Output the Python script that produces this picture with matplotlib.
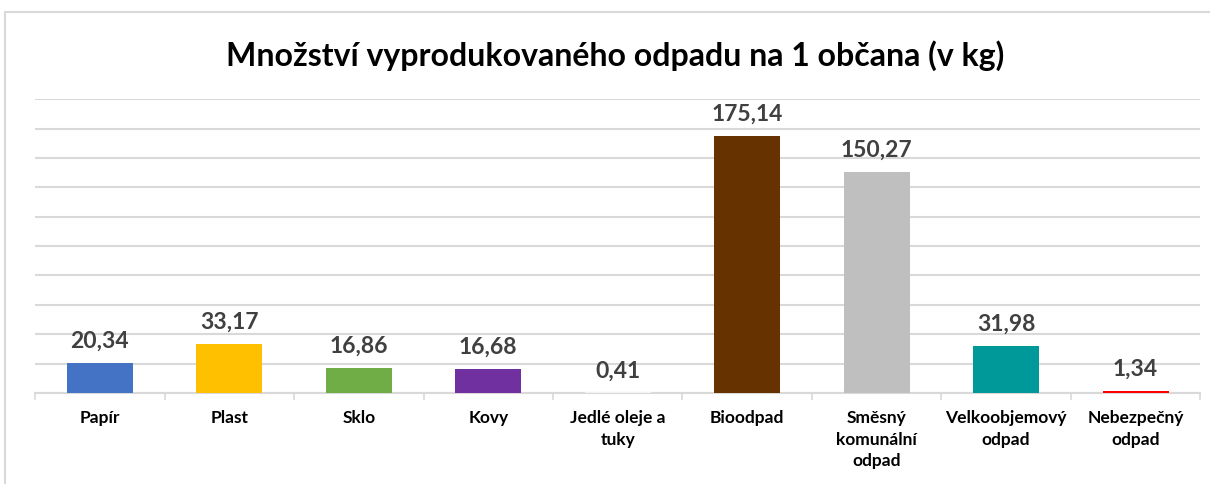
import matplotlib.pyplot as plt
from matplotlib.patches import Rectangle

plt.rcParams['font.family'] = ['Lato', 'DejaVu Sans']

categories = ["Papír", "Plast", "Sklo", "Kovy", "Jedlé oleje a\ntuky", "Bioodpad",
              "Směsný\nkomunální\nodpad", "Velkoobjemový\nodpad", "Nebezpečný\nodpad"]
values = [20.34, 33.17, 16.86, 16.68, 0.41, 175.14, 150.27, 31.98, 1.34]
colors = ["#4472C4", "#FFC000", "#70AD47", "#7030A0", "#F2F2F2", "#663300",
          "#BFBFBF", "#009999", "#FF0000"]

fig = plt.figure(figsize=(12.1, 4.84), dpi=100)
ax = fig.add_axes([0.029, 0.188, 0.963, 0.607])

x = range(len(values))
ax.bar(x, values, width=0.51, color=colors, zorder=3)

for xi, v in zip(x, values):
    ax.annotate(f"{v:.2f}".replace(".", ","), (xi, v), xytext=(0, 8),
                textcoords="offset points", ha="center", va="bottom",
                fontsize=16.5, fontweight="bold", color="#404040")

ax.set_ylim(0, 200)
ax.set_xlim(-0.5, len(values) - 0.5)
ax.set_yticks(range(0, 201, 20))
ax.yaxis.grid(True, color="#D9D9D9", linewidth=1.5, zorder=0)
ax.tick_params(axis="y", left=False, labelleft=False)
for s in ["top", "right", "left"]:
    ax.spines[s].set_visible(False)
ax.spines["bottom"].set_color("#D9D9D9")
ax.spines["bottom"].set_linewidth(1.5)

ax.set_xticks([i + 0.5 for i in range(-1, len(values))], minor=True)
ax.tick_params(axis="x", which="minor", length=5, color="#D9D9D9", width=1.2)
ax.set_xticks(list(x))
ax.set_xticklabels(categories, fontsize=12.5, fontweight="bold", linespacing=1.45)
ax.tick_params(axis="x", which="major", length=0, pad=12)

fig.text(0.508, 0.885, "Množství vyprodukovaného odpadu na 1 občana (v kg)",
         ha="center", va="center", fontsize=23, fontweight="bold")

fig.patches.append(Rectangle((5 / 1210, -0.1), 1.1, (484 - 12) / 484 + 0.1,
                             transform=fig.transFigure, fill=False,
                             edgecolor="#D9D9D9", linewidth=1.5))

fig.savefig("out.png", dpi=100)
